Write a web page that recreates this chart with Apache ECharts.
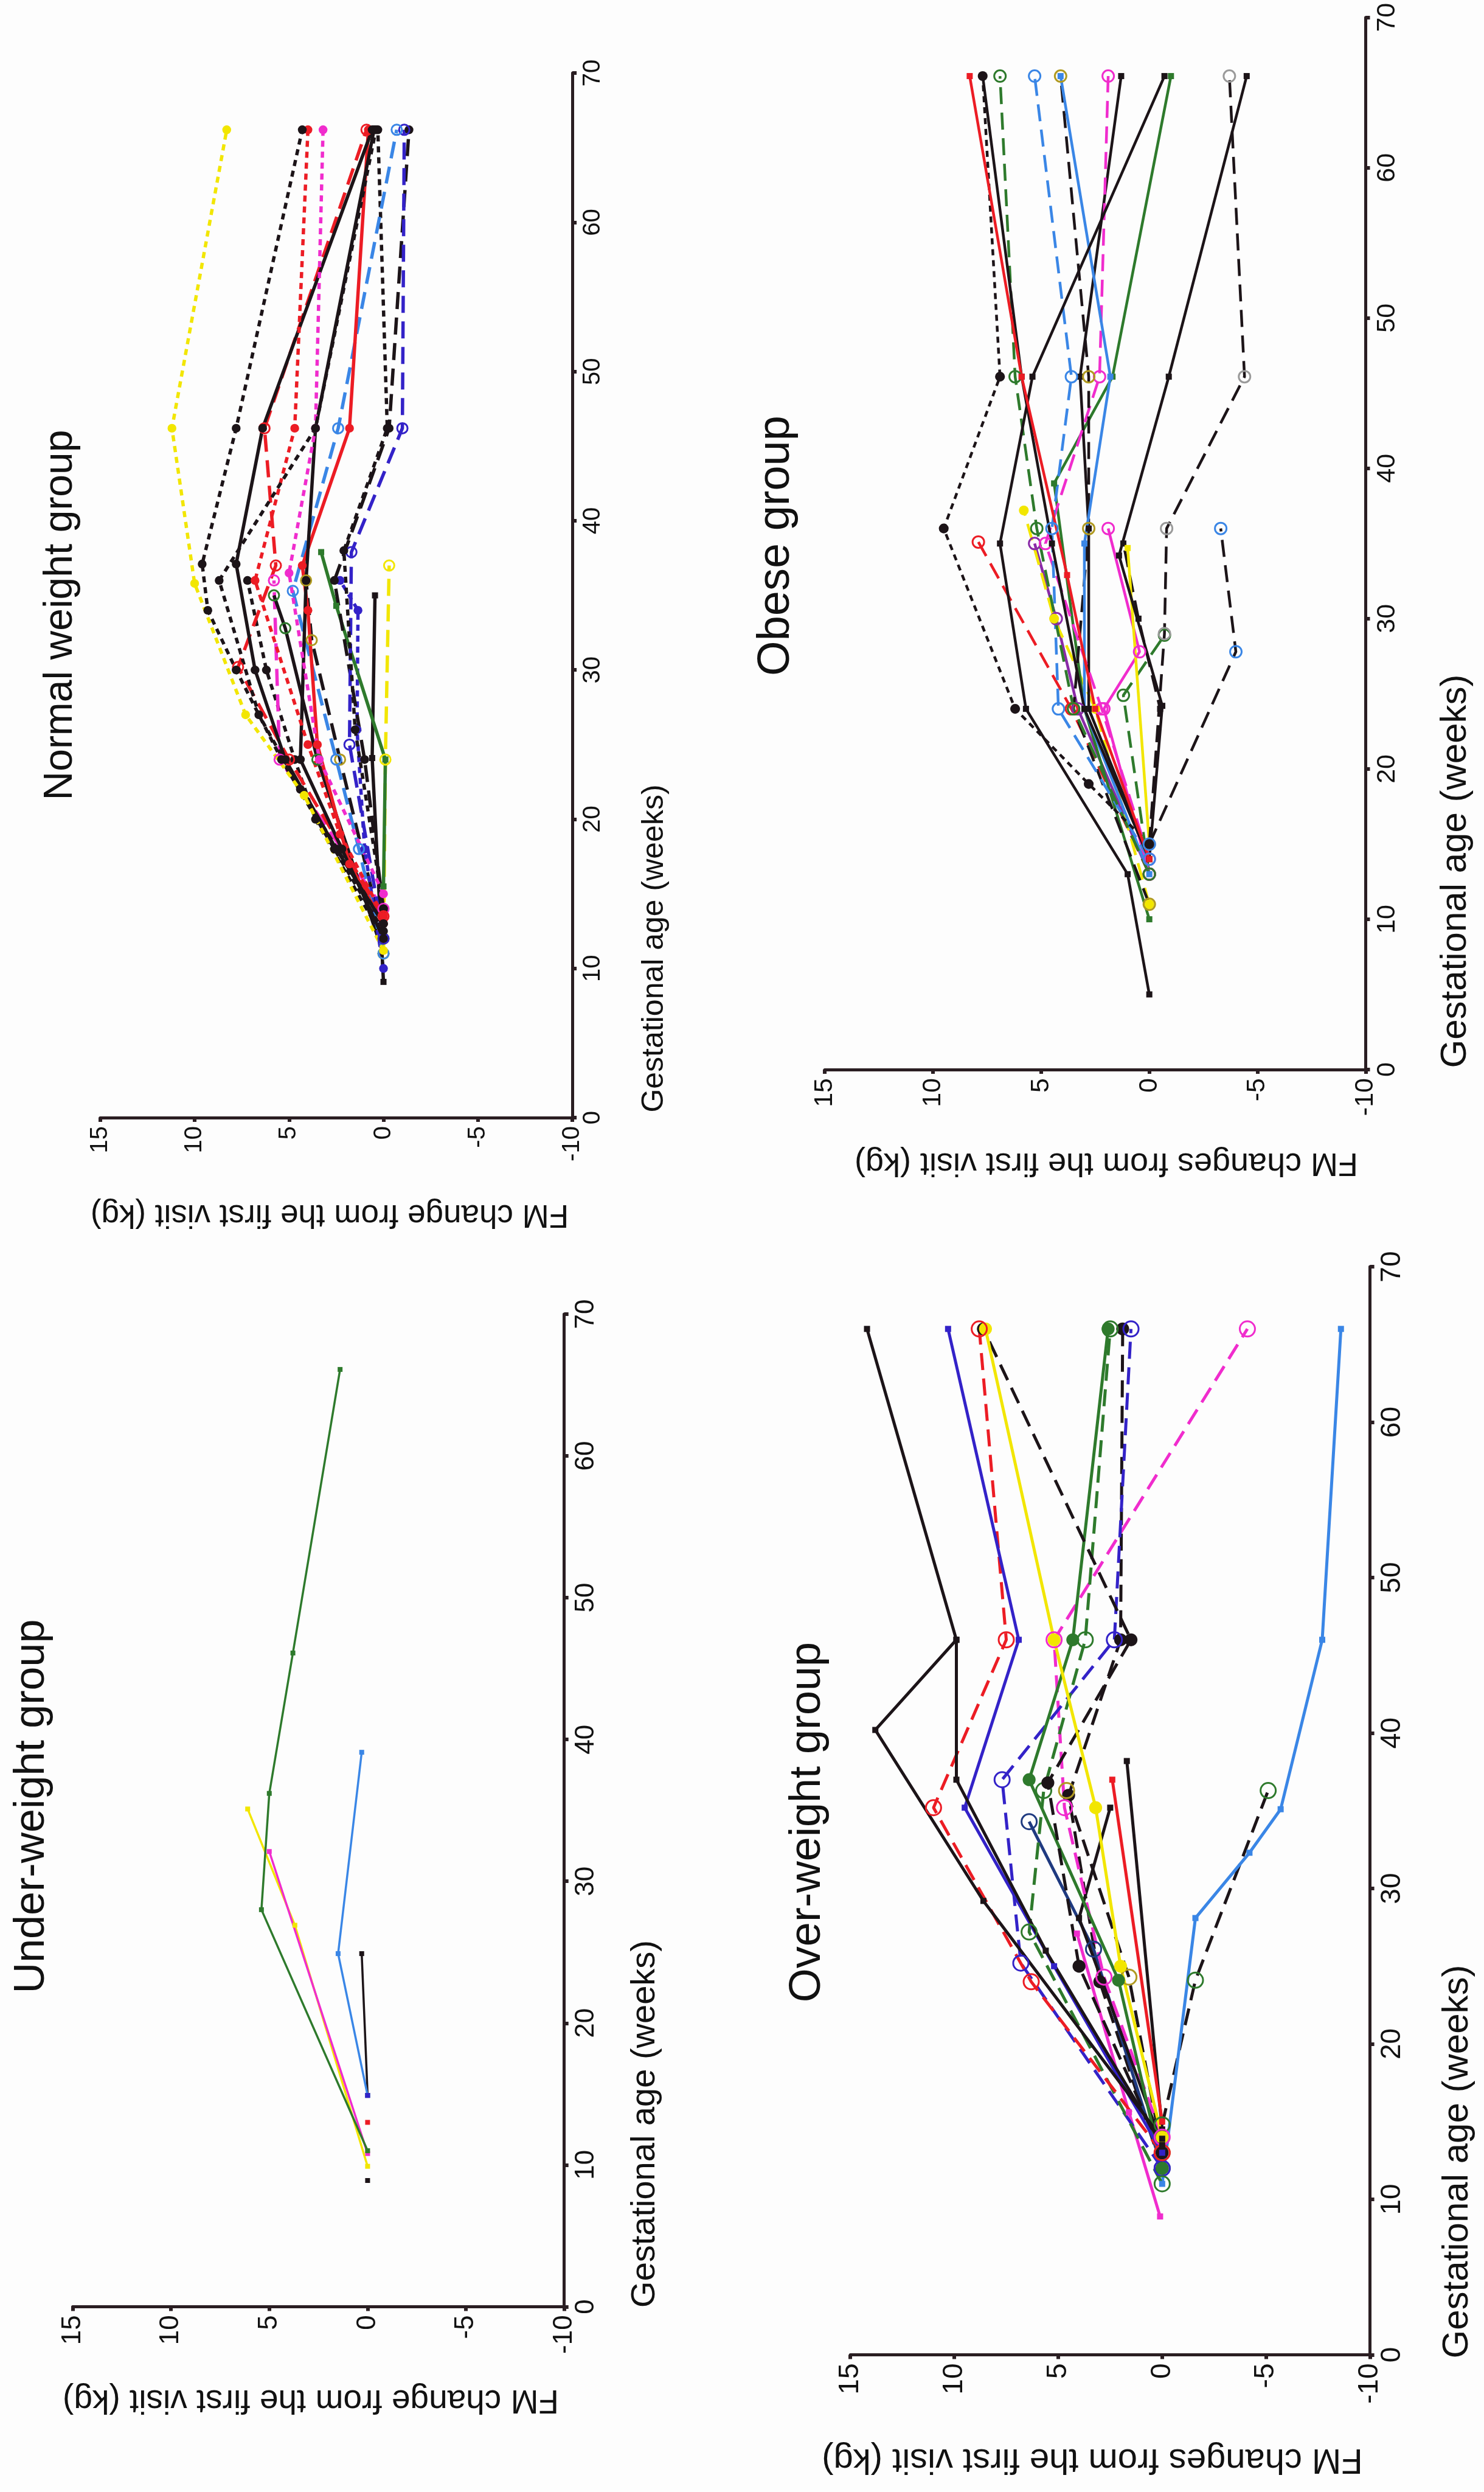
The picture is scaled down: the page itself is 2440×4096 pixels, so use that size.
<!DOCTYPE html>
<html><head><meta charset="utf-8">
<script src="https://cdn.jsdelivr.net/npm/echarts@6/dist/echarts.min.js"></script>
<style>html,body{margin:0;padding:0;background:#fdfdfd;}#c{width:2440px;height:4096px;}</style>
</head><body><div id="c"></div>
<script>
// ---------- axis ticks ----------
const FM_TICKS = [-10, -5, 0, 5, 10, 15];
const AGE_TICKS = [0, 10, 20, 30, 40, 50, 60, 70];

// ---------- panel texts ----------
const TITLES = ['Normal weight group', 'Obese group', 'Under-weight group', 'Over-weight group'];
const AGE_NAME = 'Gestational age (weeks)';
const FM_NAMES = ['FM change from the first visit (kg)', 'FM changes from the first visit (kg)',
                  'FM change from the first visit (kg)', 'FM changes from the first visit (kg)'];

// ---------- data: [gestational age (weeks), FM change (kg)] ----------
// Normal weight group
const n01 = [[11.2,0],[21.6,4.2],[27.0,7.3],[35.8,10.0],[46.2,11.2],[66.2,8.3]];
const n02 = [[12.5,0],[18,2.6],[24,5.4],[30,7.8],[34,9.3],[37.1,9.6],[46.2,7.8],[66.2,4.3]];
const n03 = [[13,0],[22,4.4],[27,6.6],[36,8.7],[46.2,3.6],[66.2,0.4]];
const n04 = [[13.5,0],[19,2.3],[25,4.0],[36,6.8],[46.2,4.7],[66.2,4.0]];
const n05 = [[15,0],[24,3.4],[36.5,5.0],[46.2,3.6],[66.2,3.2]];
const n06 = [[13,0],[18,2.5],[24,5.2],[30,6.8],[37.1,7.8],[46.2,6.4],[66.2,0.6]];
const n07 = [[12,0],[18,2.2],[24,4.4],[36,4.1],[46.2,3.6],[66.2,0.5]];
const n08 = [[13.5,0],[24,5.0],[30.2,7.7],[37,5.7],[46.2,6.3],[66.2,0.9]];
const n09 = [[13,0],[17,1.8],[25,3.5],[34,4.0],[37,4.3],[46.2,1.8],[66.2,0.8]];
const n10 = [[11,0],[18,1.3],[24,2.5],[35.3,4.8],[46.2,2.4],[66.2,-0.7]];
const n11 = [[14,0],[26,1.5],[38,2.1],[46.2,-0.2],[66.2,0.3]];
const n12 = [[12,0],[25,1.8],[37.9,1.7],[46.2,-1.0],[66.2,-1.1]];
const n13 = [[14,0],[24,1.0],[36,2.6],[46.2,-0.3],[66.2,-1.35]];
const n14 = [[15.5,0],[24,-0.1],[34.3,2.5],[37.9,3.3]];
const n15 = [[11,0],[24,-0.1],[37,-0.3]];
const n16 = [[9.1,0],[24.1,0.6],[35,0.45]];
const n17 = [[10,0],[18,1.0],[26,1.4],[34,1.35],[36,2.3]];
const n18 = [[12,0],[24,2.3],[32,3.8],[36,4.1]];
const n19 = [[11,0],[24,3.5],[32.8,5.2],[35,5.8]];
const n20 = [[14,0],[24,5.5],[36,5.8]];
const n21 = [[12,0],[20,3.6],[24,4.7],[30,6.2],[36,7.2]];

// Obese group
const o01 = [[14,0],[24,2.5],[32.9,3.8],[46.1,5.9],[66.1,8.3]];
const o02 = [[15,0],[19,2.8],[24,6.2],[36,9.5],[46.1,6.9],[66.1,7.7]];
const o03 = [[5,0],[13,1.0],[24,5.7],[35,6.9],[46.1,5.4],[66.1,-0.7]];
const o04 = [[14,0],[24,3.0],[35,4.5],[46.1,5.9],[66.1,7.7]];
const o05 = [[13,0],[24,3.5],[36,5.2],[46.1,6.2],[66.1,6.9]];
const o06 = [[14,0],[24,4.2],[36,4.5],[46.1,3.6],[66.1,5.3]];
const o07 = [[13,0],[24,3.0],[35,3.0],[46.1,1.8],[66.1,4.1]];
const o08 = [[11,0],[24,3.5],[36,2.8],[46.1,2.8],[66.1,4.1]];
const o09 = [[14,0],[24,2.2],[35,4.8],[46.1,2.3],[66.1,1.9]];
const o10 = [[14,0],[24,2.8],[36,2.8],[46.1,3.2],[66.1,1.3]];
const o11 = [[10,0],[24,3.0],[39,4.4],[46.1,1.7],[66.1,-1.0]];
const o12 = [[14,0],[24.2,-0.6],[34.2,1.4],[46.1,-0.9],[66.1,-4.5]];
const o13 = [[15,0],[27.8,-4.0],[36,-3.3]];
const o14 = [[15,0],[29,-0.7],[36,-0.8],[46.1,-4.4],[66.1,-3.7]];
const o15 = [[15,0],[34.7,1.0]];
const o16 = [[11,0],[24,2.5],[30,4.4],[37.2,5.8]];
const o17 = [[13,0],[24,2.1],[27.8,0.45],[36,1.9]];
const o18 = [[13,0],[24.9,1.2],[28.9,-0.7]];
const o19 = [[13,0],[24,3.6],[35.1,7.9]];
const o20 = [[13,0],[24,3.3],[30,4.3],[35,5.3]];
const o21 = [[15,0],[24,-0.5],[30,0.5],[35,1.2]];

// Under-weight group
const u01 = [[11,0],[28,5.4],[36.2,5.0],[46.1,3.8],[66.1,1.4]];
const u02 = [[10.8,0],[32.1,5.0]];
const u03 = [[9.9,0],[26.9,3.7],[35.1,6.1]];
const u04 = [[14.9,0],[24.9,1.5],[39.1,0.3]];
const u05 = [[14.9,0],[24.9,0.3]];
const u06 = [[13,0]];
const u07 = [[8.9,0]];
const u08 = [[14.9,0]];

// Over-weight group
const v01 = [[13.9,0],[29.2,8.6],[40.2,13.8],[46,9.9],[66,14.2]];
const v02 = [[13.5,0],[26,5.6],[37,9.9],[46,9.9]];
const v03 = [[13,0],[25,5.2],[35.2,9.5],[46,6.9],[66,10.3]];
const v04 = [[13,0],[24,6.3],[35.2,11.0],[46,7.5],[66,8.8]];
const v05 = [[14,0],[25,2.0],[35.2,3.2],[46,5.2],[66,8.5]];
const v06 = [[13,0],[25,4.0],[36.8,5.5],[46,1.5],[66,8.6]];
const v07 = [[12,0],[24.1,2.1],[37,6.4],[46,4.3],[66,2.6]];
const v08 = [[11,0],[27.2,6.4],[36.3,5.7],[46,3.7],[66,2.5]];
const v09 = [[12,0],[25.2,6.8],[37,7.7],[46,2.3],[66,1.5]];
const v10 = [[14,0],[24.3,2.8],[35.2,4.7],[46,5.2],[66,-4.1]];
const v11 = [[15,0],[37,2.4]];
const v12 = [[14.5,0],[38.2,1.7]];
const v13 = [[11,0],[28.1,-1.6],[32.3,-4.2],[35.1,-5.7],[46,-7.7],[66,-8.6]];
const v14 = [[14.8,0],[24.1,-1.6],[36.3,-5.1]];
const v15 = [[8.9,0.1],[15.6,1.6],[27.1,4.1]];
const v16 = [[13,0],[24.3,1.6],[36.3,4.6]];
const v17 = [[13.5,0],[28.1,4.0],[35.2,2.5]];
const v18 = [[12,0],[26.1,3.3],[34.3,6.4]];
const v19 = [[12,0],[24,3.0],[36,4.5],[46,2.0],[66,1.9]];

// ---------- styles ----------
const COL = {k:'#1c1418', r:'#ec1c24', m:'#f02ccd', y:'#f2e600', lb:'#3a86e6', rb:'#3322c8',
             g:'#2e7a2c', o:'#b09a20', gr:'#9a9a9a', nv:'#1f3a80', p:'#8a2aa8'};
// [data, colour, line type, marker, marker colour(optional)]
const NORMAL = [
  [n21,'k','dot','fc'],[n20,'m','dash','oc'],[n19,'k','solid','oc','g'],[n18,'k','dash','oc','o'],
  [n17,'rb','dot','fc'],[n16,'k','solid','sq'],[n15,'y','dash','oc'],[n14,'g','solid','sq'],
  [n13,'k','dash','fc'],[n12,'rb','dash','oc'],[n11,'k','dot','fc'],[n10,'lb','dash','oc'],
  [n09,'r','solid','fc'],[n08,'r','dash','oc'],[n07,'k','solid','fc'],[n06,'k','solid','fc'],
  [n05,'m','dot','fc'],[n04,'r','dot','fc'],[n03,'k','dot','fc'],[n02,'k','dot','fc'],[n01,'y','dot','fc']
];
const OBESE = [
  [o21,'k','dash','sq'],[o20,'p','solid','oc'],[o19,'r','dash','oc'],[o18,'g','dash','oc'],
  [o17,'m','solid','oc'],[o16,'y','dash','fc'],[o15,'y','solid','sq'],[o14,'k','dash','oc','gr'],
  [o13,'k','dash','oc','lb'],[o12,'k','solid','sq'],[o11,'g','solid','sq'],[o10,'k','solid','sq'],
  [o09,'m','dash','oc'],[o08,'k','dash','oc','o'],[o07,'lb','solid','sq'],[o06,'lb','dash','oc'],
  [o05,'g','dash','oc'],[o04,'k','solid','sq'],[o03,'k','solid','sq'],[o02,'k','dot','fc'],[o01,'r','solid','sq']
];
const UNDER = [
  [u05,'k','solid','sq'],[u04,'lb','solid','sq'],[u03,'y','solid','sq'],[u02,'m','solid','sq'],
  [u01,'g','solid','sq'],[u06,'r','solid','sq'],[u07,'k','solid','sq'],[u08,'rb','solid','sq']
];
const OVER = [
  [v19,'k','dash','fc'],[v18,'nv','solid','oc'],[v17,'k','solid','sq'],[v16,'k','dash','oc','o'],
  [v15,'m','solid','sq'],[v14,'k','dash','oc','g'],[v13,'lb','solid','sq'],[v12,'k','solid','sq'],
  [v11,'r','solid','sq'],[v10,'m','dash','oc'],[v09,'rb','dash','oc'],[v08,'g','dash','oc'],
  [v07,'g','solid','fc'],[v06,'k','dash','fc'],[v05,'y','solid','fc'],[v04,'r','dash','oc'],
  [v03,'rb','solid','sq'],[v02,'k','solid','sq'],[v01,'k','solid','sq']
];

// ---------- layout (output pixels) ----------
const LAYOUT = [
  {grid:{left:164.7, top:120.1, width:776.4, height:1717.0}, tick:40, lw:5.5, cs:17, ss:10,
   title:[99.6,1011,66], age:[1076.5,1559,50], fm:[542,1996,53], list:NORMAL},
  {grid:{left:1356.0, top:28.7, width:889.5, height:1729.3}, tick:43, lw:4.5, cs:19, ss:10,
   title:[1277,897,74], age:[2393,1432,60], fm:[1819,1911,54], list:OBESE},
  {grid:{left:119.5, top:2160.0, width:808.2, height:1631.4}, tick:44, lw:3.5, cs:12, ss:8,
   title:[52.5,2969,70], age:[1061,3491,56], fm:[511,3944,55], list:UNDER},
  {grid:{left:1398.2, top:2082.1, width:854.4, height:1788.4}, tick:46, lw:5, cs:25, ss:10,
   title:[1328,2995,72], age:[2396,3553,60], fm:[1796,4042,58], list:OVER}
];

const AXIS_COL = '#2a1e22';
const FONT = '"Liberation Sans", Arial, sans-serif';
const DASH = {solid:'solid', dot:[10,8], dash:[28,14]};

const grids = [], xAxes = [], yAxes = [], series = [], graphics = [];
LAYOUT.forEach((p, i) => {
  grids.push(Object.assign({containLabel:false}, p.grid));
  xAxes.push({
    gridIndex:i, type:'value', inverse:true, position:'bottom',
    min:FM_TICKS[0], max:FM_TICKS[FM_TICKS.length-1], interval:FM_TICKS[1]-FM_TICKS[0],
    axisLine:{show:true, onZero:false, lineStyle:{color:AXIS_COL, width:5}},
    axisTick:{show:true, length:7, lineStyle:{color:AXIS_COL, width:6}},
    axisLabel:{rotate:90, margin:14, fontSize:p.tick, fontFamily:FONT, color:'#111'},
    splitLine:{show:false}
  });
  yAxes.push({
    gridIndex:i, type:'value', position:'right',
    min:AGE_TICKS[0], max:AGE_TICKS[AGE_TICKS.length-1], interval:AGE_TICKS[1]-AGE_TICKS[0],
    axisLine:{show:true, onZero:false, lineStyle:{color:AXIS_COL, width:5}},
    axisTick:{show:true, length:7, lineStyle:{color:AXIS_COL, width:6}},
    axisLabel:{rotate:90, margin:14, fontSize:p.tick, fontFamily:FONT, color:'#111'},
    splitLine:{show:false}
  });
  p.list.forEach(([data, c, lt, sym, mc]) => {
    const col = COL[c], mcol = COL[mc || c];
    series.push({
      type:'line', xAxisIndex:i, yAxisIndex:i, silent:true, animation:false,
      data:data.map(d => [d[1], d[0]]),
      lineStyle:{color:col, width:p.lw, type:DASH[lt]},
      symbol: sym === 'sq' ? 'rect' : 'circle',
      symbolSize: sym === 'sq' ? p.ss : (sym === 'oc' ? p.cs : p.cs * 0.85),
      itemStyle: sym === 'oc'
        ? {color:'rgba(255,255,255,0)', borderColor:mcol, borderWidth:3}
        : {color:mcol, borderWidth:0},
      z:2
    });
  });
  const txt = (pos, text, rot) => ({
    type:'text', x:pos[0], y:pos[1], rotation:rot, silent:true,
    style:{text, fontSize:pos[2], fontFamily:FONT, fill:'#111',
           align:'center', verticalAlign:'middle', textAlign:'center', textVerticalAlign:'middle'}
  });
  graphics.push(txt(p.title, TITLES[i], Math.PI/2));
  graphics.push(txt(p.age, AGE_NAME, Math.PI/2));
  graphics.push(txt(p.fm, FM_NAMES[i], Math.PI));
});

const chart = echarts.init(document.getElementById('c'), null, {renderer:'canvas'});
chart.setOption({
  backgroundColor:'#fdfdfd', animation:false,
  grid:grids, xAxis:xAxes, yAxis:yAxes, series, graphic:graphics
});
</script></body></html>
